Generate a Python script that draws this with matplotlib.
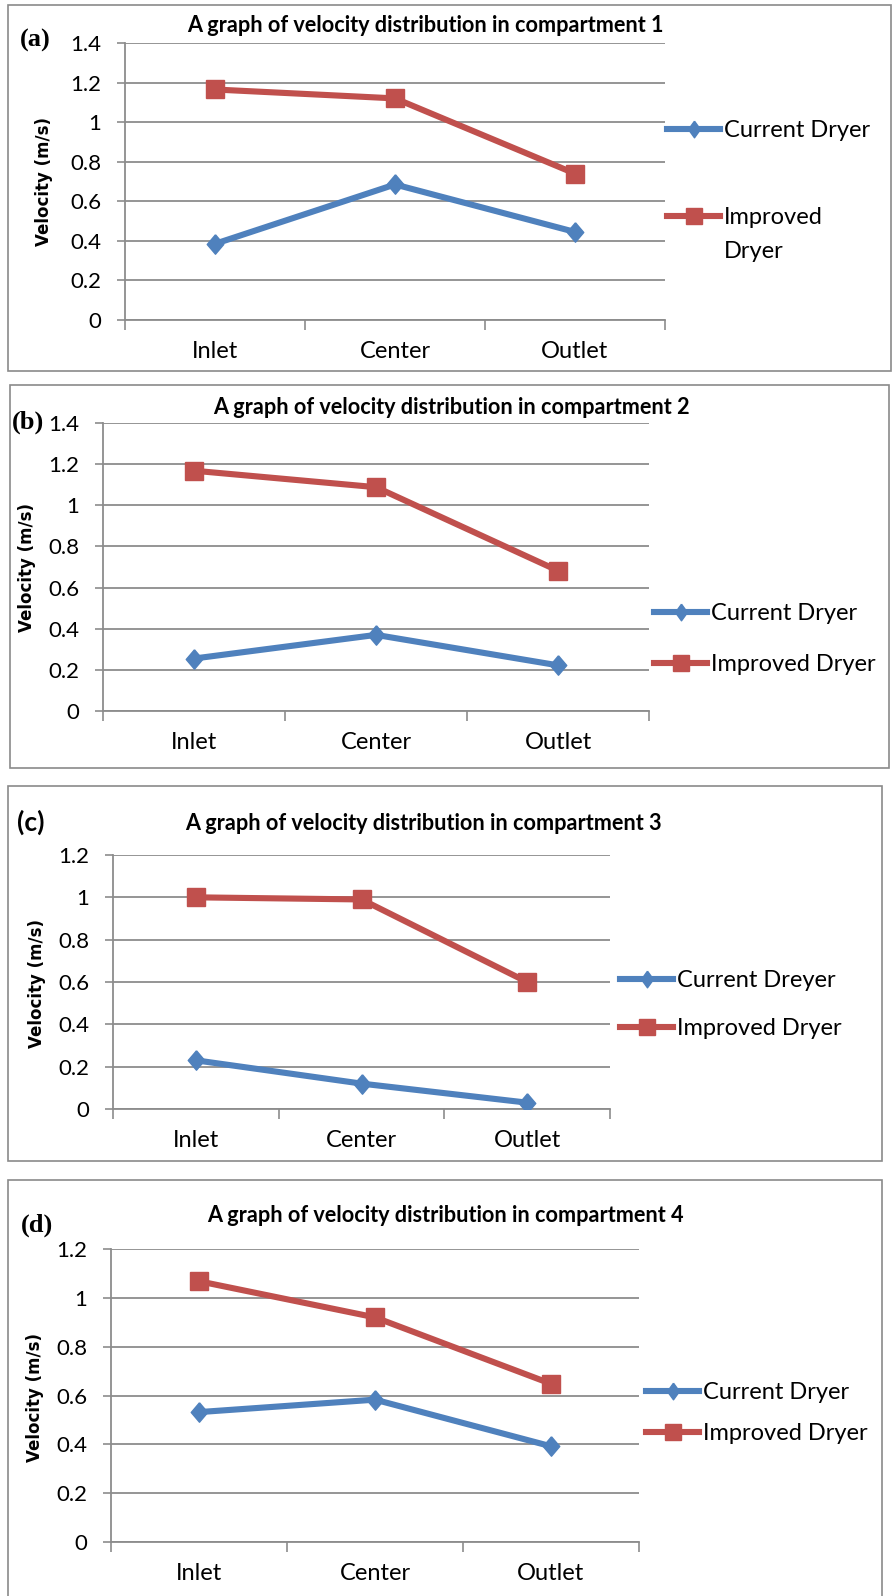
import matplotlib
matplotlib.use('Agg')
import matplotlib.pyplot as plt
import matplotlib.patches as mpatches
from matplotlib.lines import Line2D

W, H = 893, 1596

positions = ['Inlet', 'Center', 'Outlet']

current_a = [0.385, 0.685, 0.445]
improved_a = [1.165, 1.12, 0.74]
current_b = [0.255, 0.37, 0.222]
improved_b = [1.168, 1.088, 0.682]
current_c = [0.23, 0.12, 0.03]
improved_c = [1.0, 0.99, 0.60]
current_d = [0.532, 0.583, 0.392]
improved_d = [1.068, 0.92, 0.648]

yticks_14 = [0, 0.2, 0.4, 0.6, 0.8, 1, 1.2, 1.4]
yticks_12 = [0, 0.2, 0.4, 0.6, 0.8, 1, 1.2]

titles = ['A graph of velocity distribution in compartment %d' % i for i in range(1, 5)]
letters = ['(a)', '(b)', '(c)', '(d)']
current_names = ['Current Dryer', 'Current Dryer', 'Current Dreyer', 'Current Dryer']
improved_names = ['Improved', 'Improved Dryer', 'Improved Dryer', 'Improved Dryer']

BLUE = '#4F81BD'
RED = '#C0504D'
GRID = '#8C8C8C'
SANS = ['Lato', 'DejaVu Sans']
SERIF = ['Liberation Serif', 'DejaVu Serif']

# Excel style diamonds, a bit taller than wide
DIAMOND = [(0, 1), (0.85, 0), (0, -1), (-0.85, 0), (0, 1)]
DIAMOND_LEG = [(0, 1), (0.72, 0), (0, -1), (-0.72, 0), (0, 1)]

# layout in pixels: box, axes (left, right, top, bottom), title, letter, ylabel, legend
panels = [
    dict(cur=current_a, imp=improved_a, yt=yticks_14, box=(8, 5, 891, 371),
         ax=(125, 665, 43, 320), title=(425, 25), letter=(35, 40), ylab=(44, 182),
         leg=(667, 127, 221)),
    dict(cur=current_b, imp=improved_b, yt=yticks_14, box=(10, 385, 889, 768),
         ax=(103, 649, 423, 711), title=(451, 407), letter=(28, 422), ylab=(27, 567),
         leg=(654, 610, 668)),
    dict(cur=current_c, imp=improved_c, yt=yticks_12, box=(8, 786, 882, 1161),
         ax=(113, 610, 855, 1109), title=(423, 823), letter=(31, 822), ylab=(37, 983),
         leg=(620, 977, 1032)),
    dict(cur=current_d, imp=improved_d, yt=yticks_12, box=(8, 1180, 882, 1610),
         ax=(111, 639, 1249, 1542), title=(445, 1215), letter=(37, 1225), ylab=(35, 1397),
         leg=(646, 1389, 1437)),
]

fig = plt.figure(figsize=(W / 100, H / 100), dpi=100)


def fx(x):
    return x / W


def fy(y):
    return 1 - y / H


FS = 17    # legend / category labels, pt
TFS = 16   # y tick labels
LW = 4.4
fs_px = FS * 100 / 72

for i, p in enumerate(panels):
    x0, y0, x1, y1 = p['box']
    fig.patches.append(mpatches.Rectangle((fx(x0), fy(y1)), fx(x1 - x0), (y1 - y0) / H,
                                          transform=fig.transFigure, fill=False,
                                          edgecolor='#8a8a8a', linewidth=1.2))
    l, r, t, b = p['ax']
    ax = fig.add_axes([fx(l), fy(b), fx(r - l), (b - t) / H])
    x = list(range(len(positions)))
    ax.plot(x, p['cur'], color=BLUE, lw=LW, marker=DIAMOND, ms=14, mec=BLUE, zorder=3)
    ax.plot(x, p['imp'], color=RED, lw=LW, marker='s', ms=13, mec=RED, zorder=3)
    ax.set_xlim(-0.5, 2.5)
    ax.set_ylim(0, p['yt'][-1])
    ax.set_yticks(p['yt'])
    ax.set_yticklabels(['%g' % v for v in p['yt']], family=SANS, fontsize=TFS)
    ax.set_xticks([-0.5, 0.5, 1.5, 2.5])
    ax.set_xticklabels([])
    ax.set_xticks(x, minor=True)
    ax.set_xticklabels(positions, minor=True, family=SANS, fontsize=FS)
    ax.tick_params(axis='x', which='major', length=7, color=GRID, width=1.2)
    ax.tick_params(axis='x', which='minor', length=0, pad=15)
    ax.tick_params(axis='y', length=6, color=GRID, width=1.2, pad=11)
    ax.grid(axis='y', color=GRID, lw=1.3)
    ax.set_axisbelow(True)
    for s in ['top', 'right']:
        ax.spines[s].set_visible(False)
    for s in ['left', 'bottom']:
        ax.spines[s].set_color(GRID)
        ax.spines[s].set_linewidth(1.3)

    fig.text(fx(p['title'][0]), fy(p['title'][1]), titles[i], family=SANS,
             fontweight='bold', fontsize=15.6, ha='center', va='center')
    # panel (c) uses a sans letter in the original
    lfam = SANS if i == 2 else SERIF
    fig.text(fx(p['letter'][0]), fy(p['letter'][1]), letters[i], family=lfam,
             fontweight='bold', fontsize=19, ha='center', va='center')
    fig.text(fx(p['ylab'][0]), fy(p['ylab'][1]), 'Velocity (m/s)', family=['DejaVu Sans'],
             fontweight='bold', fontsize=12, rotation=90, ha='center', va='center')

    lx, ly1, ly2 = p['leg']
    handles = [Line2D([], [], color=BLUE, lw=LW, marker=DIAMOND_LEG, ms=12),
               Line2D([], [], color=RED, lw=LW, marker='s', ms=11)]
    row_px = fs_px * 1.2
    spacing = (ly2 - ly1 - row_px) / fs_px
    ax.legend(handles, [current_names[i], improved_names[i]],
              loc='center left', bbox_to_anchor=(fx(lx), fy((ly1 + ly2) / 2)),
              bbox_transform=fig.transFigure, frameon=False, borderpad=0,
              borderaxespad=0, handlelength=2.25, handletextpad=0.17,
              labelspacing=spacing, prop={'family': SANS, 'size': FS})
    if i == 0:
        fig.text(fx(lx + 57), fy(ly2 + 31), 'Dryer', family=SANS, fontsize=FS,
                 ha='left', va='center')

fig.savefig('out.png', dpi=100)
